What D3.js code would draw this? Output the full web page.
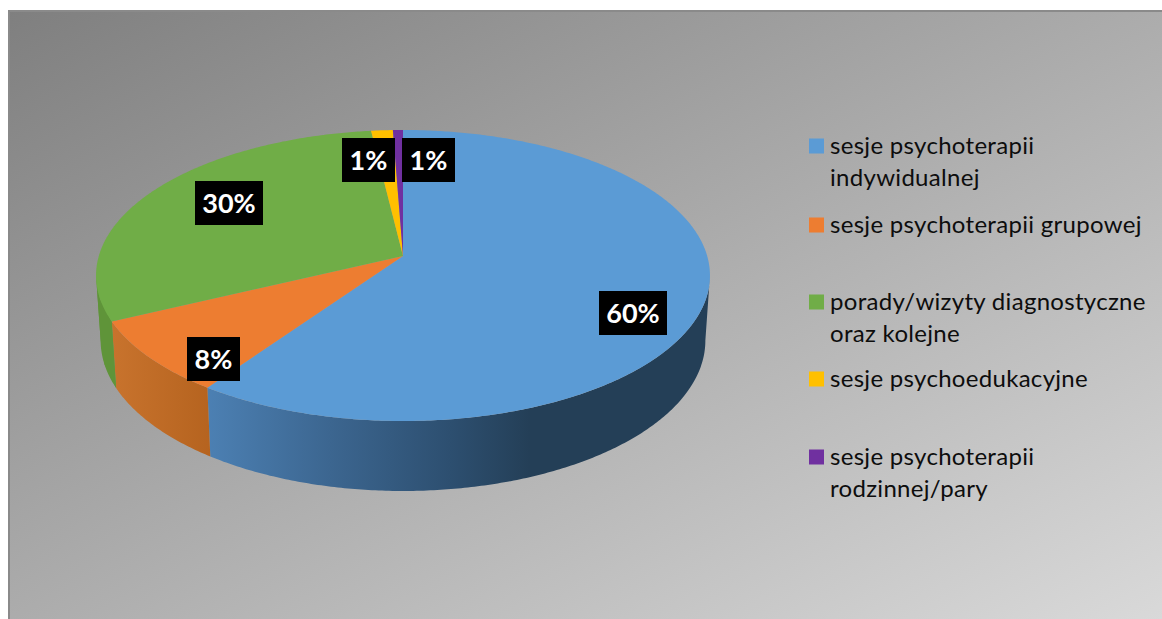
<!DOCTYPE html>
<html><head><meta charset="utf-8">
<script src="https://cdn.jsdelivr.net/npm/d3@7"></script>
<style>html,body{margin:0;padding:0;background:#fff}svg{display:block}</style>
</head><body><svg id="c" width="1162" height="619"></svg>
<script>
const categories = ["sesje psychoterapii indywidualnej","sesje psychoterapii grupowej","porady/wizyty diagnostyczne oraz kolejne","sesje psychoedukacyjne","sesje psychoterapii rodzinnej/pary"];
const legendLines = [["sesje psychoterapii","indywidualnej"],["sesje psychoterapii grupowej"],["porady/wizyty diagnostyczne","oraz kolejne"],["sesje psychoedukacyjne"],["sesje psychoterapii","rodzinnej/pary"]];
const values = [59.7, 8.2, 30.2, 1.3, 0.6];
const colors = ["#5b9bd5","#ed7d31","#70ad47","#ffc000","#7030a0"];
const legendY = [146,225,302,379,457];
const labelPos = [[633,313],[213.5,359],[229,203],[368.5,160],[428.5,160]];

const svg = d3.select("#c");
const defs = svg.append("defs");
const bg = defs.append("linearGradient").attr("id","bg").attr("x1",0).attr("y1",0).attr("x2",1).attr("y2",1);
bg.append("stop").attr("offset",0).attr("stop-color","#7f7f7f");
bg.append("stop").attr("offset",1).attr("stop-color","#d9d9d9");
svg.append("rect").attr("x",8).attr("y",10).attr("width",1154).attr("height",609).attr("fill","url(#bg)");
svg.append("path").attr("d","M9,619V11H1162").attr("fill","none").attr("stroke","#8a8a8a").attr("stroke-width",2);

// perspective projection of the pie disc
const cx=403, c=-0.134, a=108.6, b=256, k=304.2;
const topPt = t => { const u=Math.sin(t), v=-Math.cos(t), w=1+c*v; return [cx+k*u/w,(a*v+b)/w]; };
const botPt = t => { const [x,y]=topPt(t); return [cx+(x-cx)*0.985, y+66.6+(y-322)*0.034]; };
const pie = d3.pie().sort(null).value(d=>d)(values);
const apex = [cx,b];
const range = (s,e)=>{ const n=Math.max(2,Math.ceil((e-s)/0.01)); return d3.range(n+1).map(i=>s+(e-s)*i/n); };
const line = d3.line();

// side walls
const wallStops = [
 [[207,"#4c80b3"],[330,"#3c6690"],[450,"#2d4f70"],[530,"#243f57"],[712,"#243f57"]],
 [[112,"#c8732d"],[212,"#b5631f"]],
 [[97,"#5f9439"],[118,"#5f9439"]]
];
wallStops.forEach((st,i)=>{
  const g=defs.append("linearGradient").attr("id","w"+i).attr("gradientUnits","userSpaceOnUse")
    .attr("x1",st[0][0]).attr("x2",st[st.length-1][0]).attr("y1",0).attr("y2",0);
  st.forEach(s=>g.append("stop").attr("offset",(s[0]-st[0][0])/(st[st.length-1][0]-st[0][0])).attr("stop-color",s[1]));
});
const leftExt = 3*Math.PI/2-0.134, rightExt=Math.PI/2+0.134;
[[0,rightExt,pie[0].endAngle],[1,pie[1].startAngle,pie[1].endAngle],[2,pie[2].startAngle,leftExt]].forEach(([i,s,e])=>{
  const as=s<e?range(s,e):[];
  if(!as.length) return;
  const pts=as.map(topPt).concat(as.slice().reverse().map(botPt));
  svg.append("path").attr("d",line(pts)+"Z").attr("fill",`url(#w${i})`);
});
// green wall runs from the left extreme to the orange boundary
{
  const as=range(leftExt,pie[1].endAngle);
  const pts=as.map(topPt).concat(as.slice().reverse().map(botPt));
  svg.append("path").attr("d",line(pts)+"Z").attr("fill","url(#w2)");
}

// top face
pie.forEach((d,i)=>{
  const pts=[apex].concat(range(d.startAngle,d.endAngle).map(topPt));
  svg.append("path").attr("d",line(pts)+"Z").attr("fill",colors[i]);
});

// data labels
const fmt=d3.format(".0f");
values.forEach((v,i)=>{
  const t=fmt(v)+"%", w=t.length===2?53:68, [x,y]=labelPos[i];
  svg.append("rect").attr("x",x-w/2).attr("y",y-22).attr("width",w).attr("height",44).attr("fill","#000");
  svg.append("text").attr("x",x).attr("y",y+10).attr("text-anchor","middle")
    .attr("font-family","Lato,sans-serif").attr("font-weight",700).attr("font-size",27).attr("fill","#fff").text(t);
});

// legend
categories.forEach((cat,i)=>{
  svg.append("rect").attr("x",809).attr("y",legendY[i]-7.5).attr("width",15).attr("height",15).attr("fill",colors[i]);
  legendLines[i].forEach((l,j)=>{
    svg.append("text").attr("x",830).attr("y",legendY[i]+8+j*32).attr("font-family","Lato,sans-serif")
      .attr("font-size",24).attr("letter-spacing",0.3).attr("fill","#0d0d0d").text(l);
  });
});
</script></body></html>
